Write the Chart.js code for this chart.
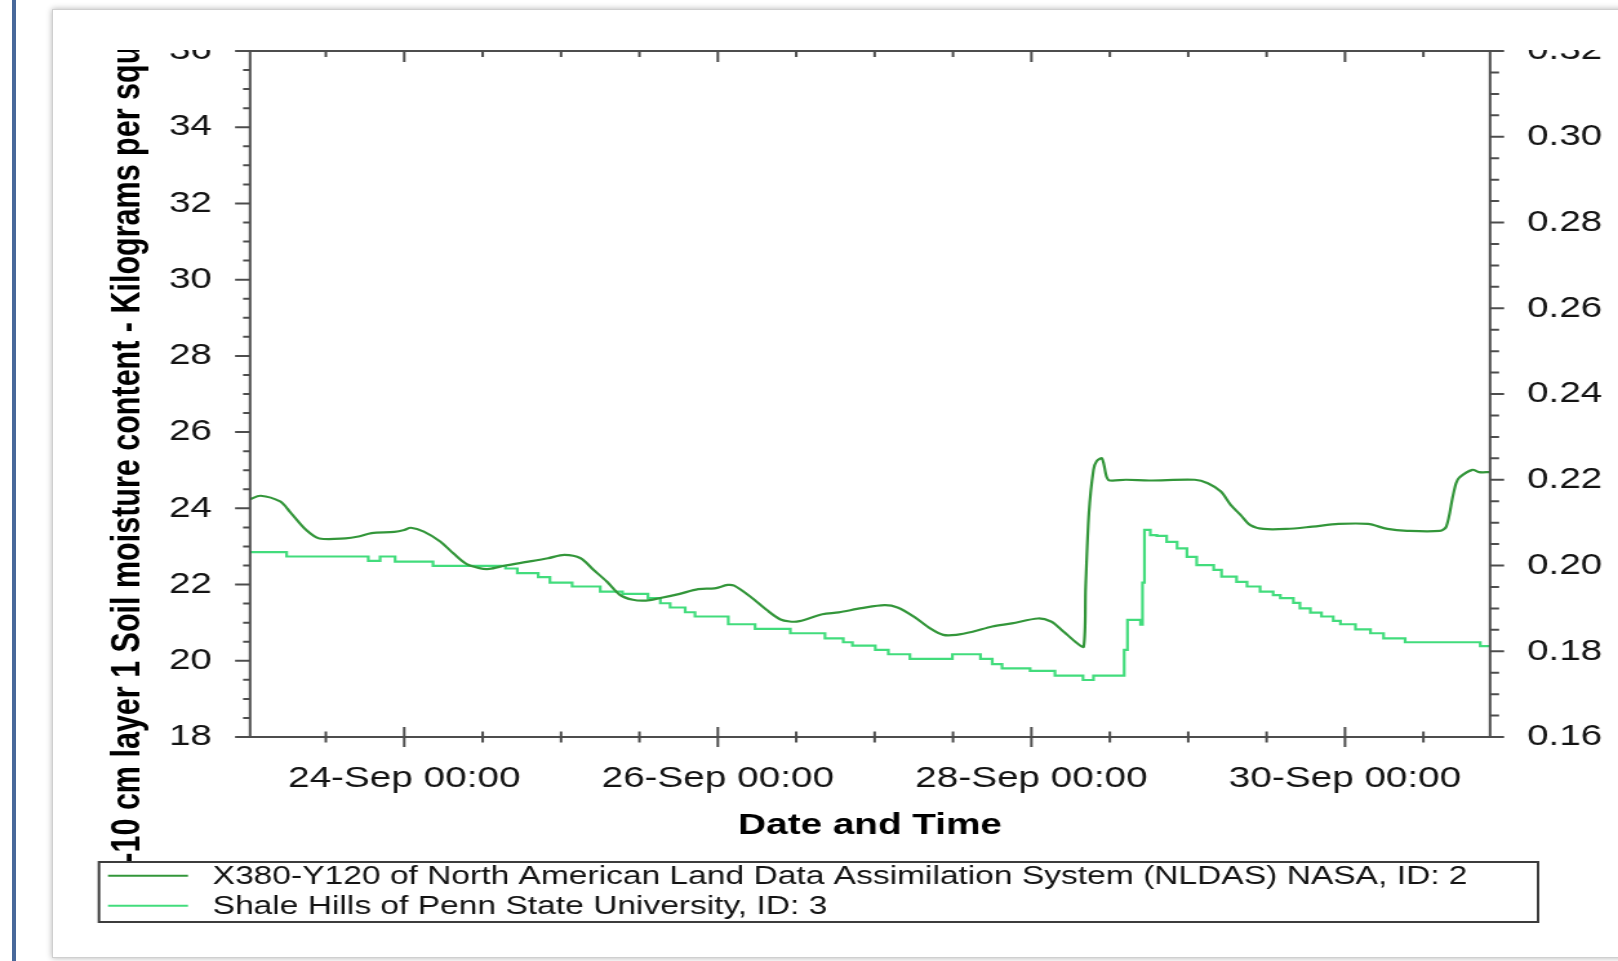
<!DOCTYPE html>
<html>
<head>
<meta charset="utf-8">
<title>Soil moisture content</title>
<script src="https://cdn.jsdelivr.net/npm/chart.js@4.4.0/dist/chart.umd.min.js"></script>
<style>
  html, body { margin: 0; padding: 0; background: #fff; width: 1618px; height: 961px; overflow: hidden; }
  #bar { position: absolute; left: 12px; top: 0; width: 4px; height: 961px; background: #48689a; }
  #card { position: absolute; left: 52px; top: 9px; width: 1600px; height: 947px; background: #fff;
          border: 1px solid #cfcfcf; box-shadow: 0 0 6px rgba(0,0,0,0.3); }
  /* canvas drawn narrow and stretched sideways, like the original screenshot */
  #plot { position: absolute; left: 0; top: 50px; transform-origin: 0 0; transform: scaleX(1.2903); }
</style>
</head>
<body>
<div id="bar"></div>
<div id="card"></div>
<canvas id="plot" width="1254" height="900"></canvas>
<script>
// hours counted from 23-Sep 00:00
var startDay = 23;
var xMin = 0.4;
var xMax = 190.2;
var xLabelHours = [24, 72, 120, 168];
var leftTicks = [18, 20, 22, 24, 26, 28, 30, 32, 34, 36];
var rightTicks = [0.16, 0.18, 0.20, 0.22, 0.24, 0.26, 0.28, 0.30, 0.32];

var nldasLabel = 'X380-Y120 of North American Land Data Assimilation System (NLDAS) NASA, ID: 2';
var nldasHours = [0.4, 2, 5, 6.5, 9, 11, 15, 17, 19, 22.5,
	24, 25, 27, 29.5, 31.5, 33.5, 35.5, 37, 39.5, 43,
	46, 48.5, 51, 53, 55, 57, 59, 61, 63, 66,
	69, 71.5, 73.5, 74.5, 77, 79.5, 81.5, 83, 84.5, 88,
	90.5, 94, 97.5, 99.5, 102, 104.5, 106.5, 108.5, 111, 114,
	117, 121, 123, 124.5, 125.5, 127, 128, 128.3, 128.8, 129.5,
	130, 130.8, 131.5, 132, 134.5, 138, 145, 147, 149, 150.5,
	152, 153.5, 155.5, 159, 163, 167, 171.5, 174.5, 177.5,
	182.5, 183.5, 184.5, 185, 185.5, 187.5, 188.5, 190.2];
var nldasValues = [24.24, 24.33, 24.18, 23.91, 23.43, 23.21, 23.21, 23.26, 23.35, 23.38,
	23.43, 23.49, 23.39, 23.13, 22.82, 22.54, 22.43, 22.41, 22.50, 22.60,
	22.69, 22.78, 22.69, 22.38, 22.08, 21.73, 21.60, 21.58, 21.64, 21.75,
	21.88, 21.90, 21.99, 21.97, 21.68, 21.33, 21.09, 21.03, 21.04, 21.22,
	21.27, 21.38, 21.46, 21.40, 21.16, 20.85, 20.68, 20.68, 20.76, 20.90,
	20.98, 21.11, 21.03, 20.83, 20.68, 20.46, 20.37, 21.94, 23.87, 25.01,
	25.24, 25.31, 24.83, 24.73, 24.75, 24.73, 24.75, 24.66, 24.44, 24.09,
	23.83, 23.56, 23.46, 23.46, 23.52, 23.59, 23.59, 23.46, 23.41,
	23.41, 23.52, 24.31, 24.66, 24.81, 25.01, 24.95, 24.95];

var shaleLabel = 'Shale Hills of Penn State University, ID: 3';
var shaleHours = [0.4, 6.0, 18.5, 20.3, 22.6, 28.4, 39.5, 41.3, 44.5, 46.3,
	49.7, 54.0, 57.4, 61.3, 63.2, 64.7, 67.0, 68.5, 73.6, 77.7,
	83.1, 88.4, 91.2, 92.6, 96.1, 98.1, 101.4, 107.9, 112.2, 114.0,
	115.5, 119.8, 123.6, 127.9, 129.5, 134.2, 134.7, 136.7, 137.0, 137.3,
	138.2, 139.2, 140.7, 142.3, 143.8, 145.3, 147.9, 149.1, 151.4, 153.0,
	155.0, 157.0, 158.1, 160.1, 161.1, 162.7, 164.4, 166.2, 167.3, 169.6,
	171.9, 173.9, 177.2, 188.7, 190.2];
var shaleValues = [0.2031, 0.2021, 0.2011, 0.2021, 0.2009, 0.1999, 0.1993, 0.1982, 0.1973, 0.1960,
	0.1951, 0.1939, 0.1934, 0.1924, 0.1912, 0.1902, 0.1891, 0.1881, 0.1863, 0.1852,
	0.1842, 0.1830, 0.1821, 0.1813, 0.1803, 0.1793, 0.1782, 0.1793, 0.1782, 0.1770,
	0.1760, 0.1754, 0.1743, 0.1733, 0.1743, 0.1803, 0.1873, 0.1862, 0.1960, 0.2083,
	0.2071, 0.2069, 0.2055, 0.2040, 0.2020, 0.2001, 0.1990, 0.1974, 0.1962, 0.1951,
	0.1939, 0.1931, 0.1924, 0.1913, 0.1900, 0.1890, 0.1881, 0.1871, 0.1863, 0.1851,
	0.1842, 0.1830, 0.1821, 0.1812, 0.1812];

var darkGreen = '#33963a';
var lightGreen = '#42dc7c';
var axisColor = '#4d4d4d';
var textColor = '#141414';
var fontFamily = '"Liberation Sans", Arial, sans-serif';

function hourLabel(h) {
	var day = startDay + Math.floor(h / 24);
	var hh = String(h % 24).padStart(2, '0');
	return day + '-Sep ' + hh + ':00';
}

function toPoints(xs, ys) {
	var pts = [];
	for (var i = 0; i < xs.length; i++) pts.push({x: xs[i], y: ys[i]});
	return pts;
}

// frame round the plot and the tick marks (major + minor) on all four sides
var frameTicks = {
	id: 'frameTicks',
	afterDatasetsDraw: function(chart) {
		var ctx = chart.ctx, a = chart.chartArea, s = chart.scales;
		ctx.save();
		ctx.strokeStyle = axisColor;
		ctx.lineWidth = 2;
		ctx.strokeRect(a.left, a.top, a.right - a.left, a.bottom - a.top);
		ctx.beginPath();
		var i, y, x, major;
		for (i = 0; i <= 36; i++) {
			var v = 18 + i * 0.5;
			y = s.y.getPixelForValue(v);
			major = i % 4 === 0;
			ctx.moveTo(a.left - (major ? 11.6 : 5.4), y);
			ctx.lineTo(a.left, y);
		}
		for (i = 0; i <= 32; i++) {
			y = s.y1.getPixelForValue(0.16 + i * 0.005);
			major = i % 4 === 0;
			ctx.moveTo(a.right, y);
			ctx.lineTo(a.right + (major ? 10.9 : 7), y);
		}
		for (var h = 12; h < xMax; h += 12) {
			x = s.x.getPixelForValue(h);
			major = xLabelHours.indexOf(h) >= 0;
			var len = major ? 10 : 5.5;
			ctx.moveTo(x, a.bottom - len);
			ctx.lineTo(x, a.bottom + len);
			ctx.moveTo(x, a.top);
			ctx.lineTo(x, a.top + (major ? 11 : 6));
		}
		ctx.stroke();
		ctx.restore();
	},
	afterDraw: function(chart) {
		// boxed legend below the axis, drawn last so it sits over the axis title
		var ctx = chart.ctx;
		var ds = chart.data.datasets;
		ctx.save();
		ctx.fillStyle = '#fff';
		ctx.fillRect(76.7, 812, 1115.3, 60);
		ctx.strokeStyle = '#3c3c3c';
		ctx.lineWidth = 2;
		ctx.strokeRect(76.7, 812, 1115.3, 60);
		var rows = [825.7, 855.7];
		ctx.font = '26px ' + fontFamily;
		ctx.textBaseline = 'middle';
		for (var i = 0; i < ds.length; i++) {
			ctx.strokeStyle = ds[i].borderColor;
			ctx.beginPath();
			ctx.moveTo(83.7, rows[i]);
			ctx.lineTo(145.7, rows[i]);
			ctx.stroke();
			ctx.fillStyle = textColor;
			ctx.fillText(ds[i].label, 164.8, rows[i] + 1);
		}
		ctx.restore();
	}
};

var tickFont = {family: fontFamily, size: 30};

new Chart(document.getElementById('plot'), {
	type: 'line',
	data: {
		datasets: [{
			label: nldasLabel,
			data: toPoints(nldasHours, nldasValues),
			borderColor: darkGreen,
			borderWidth: 2.2,
			pointRadius: 0,
			tension: 0.3,
			yAxisID: 'y'
		}, {
			label: shaleLabel,
			data: toPoints(shaleHours, shaleValues),
			borderColor: lightGreen,
			borderWidth: 2.2,
			pointRadius: 0,
			stepped: true,
			yAxisID: 'y1'
		}]
	},
	options: {
		responsive: false,
		animation: false,
		layout: {padding: {top: 1, left: 0, right: 0, bottom: 0}},
		plugins: {
			legend: {display: false},
			tooltip: {enabled: false}
		},
		scales: {
			x: {
				type: 'linear',
				min: xMin,
				max: xMax,
				grid: {display: false, drawTicks: false},
				border: {display: false},
				afterBuildTicks: function(scale) {
					scale.ticks = xLabelHours.map(function(v) { return {value: v}; });
				},
				ticks: {
					callback: function(v) { return hourLabel(v); },
					font: tickFont, color: textColor, padding: 23.5,
					maxRotation: 0, autoSkip: false
				},
				title: {
					display: true, text: 'Date and Time', color: '#000',
					font: {family: fontFamily, size: 30, weight: 'bold'},
					padding: {top: 0, bottom: 106.5}
				},
				afterFit: function(scale) {
					scale.height = 213;
					scale.paddingLeft = 0;
					scale.paddingRight = 0;
				}
			},
			y: {
				position: 'left',
				min: 18,
				max: 36,
				grid: {display: false, drawTicks: false},
				border: {display: false},
				afterBuildTicks: function(scale) {
					scale.ticks = leftTicks.map(function(v) { return {value: v}; });
				},
				ticks: {
					callback: function(v) { return String(v); },
					font: tickFont, color: textColor, padding: 29.5
				},
				title: {
					display: true,
					text: '0-10 cm layer 1 Soil moisture content - Kilograms per square meter',
					color: '#000',
					font: {family: fontFamily, size: 30.5, weight: 'bold'},
					padding: {top: 81.5, bottom: 0}
				},
				afterFit: function(scale) {
					scale.width = 193.8;
					scale.paddingTop = 0;
					scale.paddingBottom = 0;
				}
			},
			y1: {
				position: 'right',
				min: 0.16,
				max: 0.32,
				grid: {display: false, drawTicks: false},
				border: {display: false},
				afterBuildTicks: function(scale) {
					scale.ticks = rightTicks.map(function(v) { return {value: v}; });
				},
				ticks: {
					callback: function(v) { return v.toFixed(2); },
					font: tickFont, color: textColor, padding: 28.6
				},
				afterFit: function(scale) {
					scale.width = 99.2;
					scale.paddingTop = 0;
					scale.paddingBottom = 0;
				}
			}
		}
	},
	plugins: [frameTicks]
});
</script>
</body>
</html>
